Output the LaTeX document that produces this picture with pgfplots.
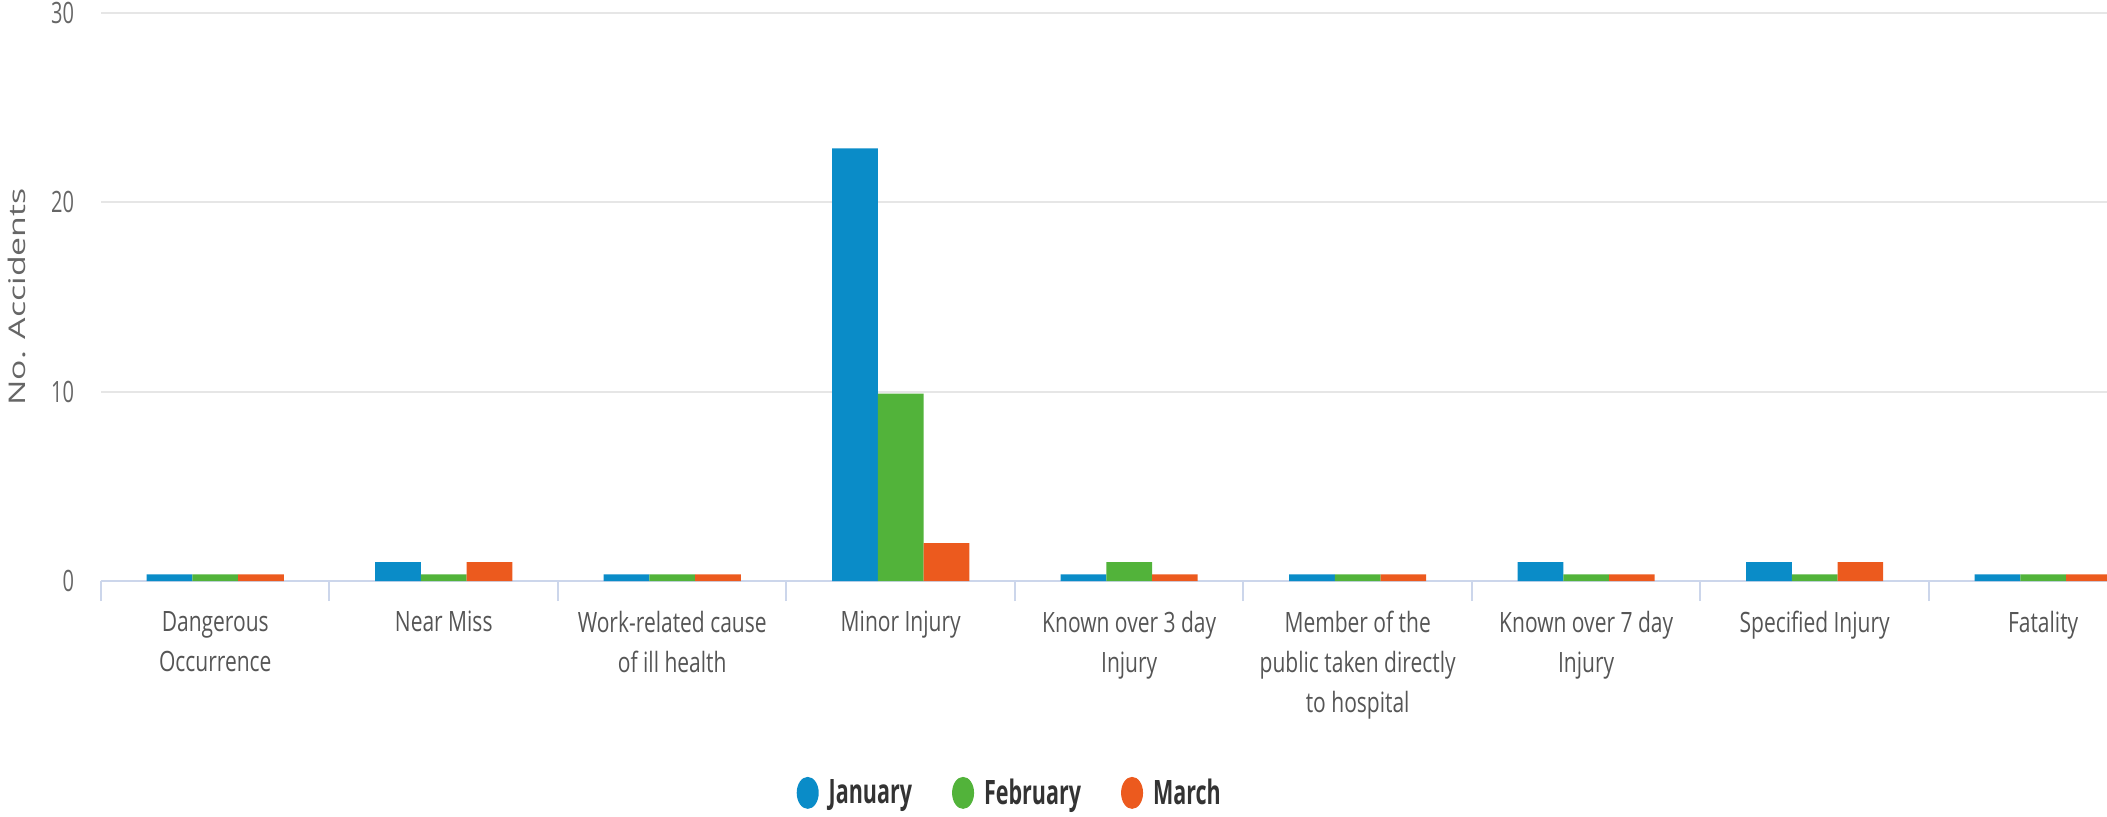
\documentclass[border=0pt]{standalone}
\usepackage{pgfplots}
\pgfplotsset{compat=1.18}
\usepackage{fontspec}
\setmainfont{Open Sans}
\newfontfamily\condfont[FakeStretch=0.75]{Open Sans}
\newfontfamily\tickfont[FakeStretch=0.68]{Open Sans}
\newfontfamily\legfont[FakeStretch=0.64]{Open Sans}
\definecolor{janblue}{RGB}{10,140,200}
\definecolor{febgreen}{RGB}{82,179,58}
\definecolor{marorange}{RGB}{236,90,30}
\definecolor{gridgray}{RGB}{230,230,230}
\definecolor{axisline}{RGB}{204,214,235}
\definecolor{labelgray}{RGB}{102,102,102}
\definecolor{catgray}{RGB}{85,85,85}
\definecolor{legtext}{RGB}{51,51,51}
\begin{document}
\begin{tikzpicture}
\begin{axis}[
  at={(0,0)}, anchor=south west,
  scale only axis, width=1003pt, height=284pt,
  xmin=-0.5, xmax=8.28, ymin=0, ymax=30,
  ytick={0,10,20,30},
  ymajorgrids, grid style={color=gridgray, line width=1pt},
  axis x line*=bottom, axis y line*=left,
  y axis line style={draw=none},
  x axis line style={color=axisline, line width=1pt},
  xtick={0,...,8},
  xticklabels={{Dangerous\\Occurrence},{Near Miss},{Work-related cause\\of ill health},{Minor Injury},{Known over 3 day\\Injury},{Member of the\\public taken directly\\to hospital},{Known over 7 day\\Injury},{Specified Injury},{Fatality}},
  minor xtick={-0.5,0.5,...,7.5},
  major tick length=0pt,
  minor tick length=10pt,
  tick align=outside,
  minor tick style={color=axisline, line width=1pt},
  xticklabel style={align=center, font=\condfont\fontsize{14}{20}\selectfont, text=catgray, anchor=north, yshift=-11.5pt},
  yticklabel style={font=\tickfont\fontsize{14.7}{14.7}\selectfont, text=labelgray, xshift=-10pt},
  /pgf/number format/assume math mode=true,
  ylabel={\scalebox{1}[0.68]{No. Accidents}},
  every axis y label/.style={at={(axis description cs:-0.0419,0.5)}, rotate=90, anchor=center, font=\fontsize{16.9}{16.9}\selectfont, text=labelgray},
  ybar=0pt, bar width=0.2,
  legend columns=3,
  legend style={at={(axis description cs:0.4535,-0.373)}, anchor=center, draw=none, fill=none,
    font=\legfont\bfseries\fontsize{16.8}{16.8}\selectfont, text=legtext,
    /tikz/every odd column/.append style={column sep=3pt},
    /tikz/every even column/.append style={column sep=18pt}},
]
\addplot[fill=janblue, draw=none, bar shift=-0.2,
  legend image code/.code={\fill[janblue] (0pt,0pt) ellipse [x radius=5.5pt, y radius=8pt];}]
  coordinates {(0,0.35) (1,1) (2,0.35) (3,22.85) (4,0.35) (5,0.35) (6,1) (7,1) (8,0.35)};
\addlegendentry{January}
\addplot[fill=febgreen, draw=none, bar shift=0,
  legend image code/.code={\fill[febgreen] (0pt,0pt) ellipse [x radius=5.5pt, y radius=8pt];}]
  coordinates {(0,0.35) (1,0.35) (2,0.35) (3,9.9) (4,1) (5,0.35) (6,0.35) (7,0.35) (8,0.35)};
\addlegendentry{February}
\addplot[fill=marorange, draw=none, bar shift=0.2,
  legend image code/.code={\fill[marorange] (0pt,0pt) ellipse [x radius=5.5pt, y radius=8pt];}]
  coordinates {(0,0.35) (1,1) (2,0.35) (3,2) (4,0.35) (5,0.35) (6,0.35) (7,1) (8,0.35)};
\addlegendentry{March}
\end{axis}
\pgfresetboundingbox
\path[use as bounding box] (-50.5pt,-117.5pt) rectangle (1003pt,290.5pt);
\end{tikzpicture}
\end{document}
